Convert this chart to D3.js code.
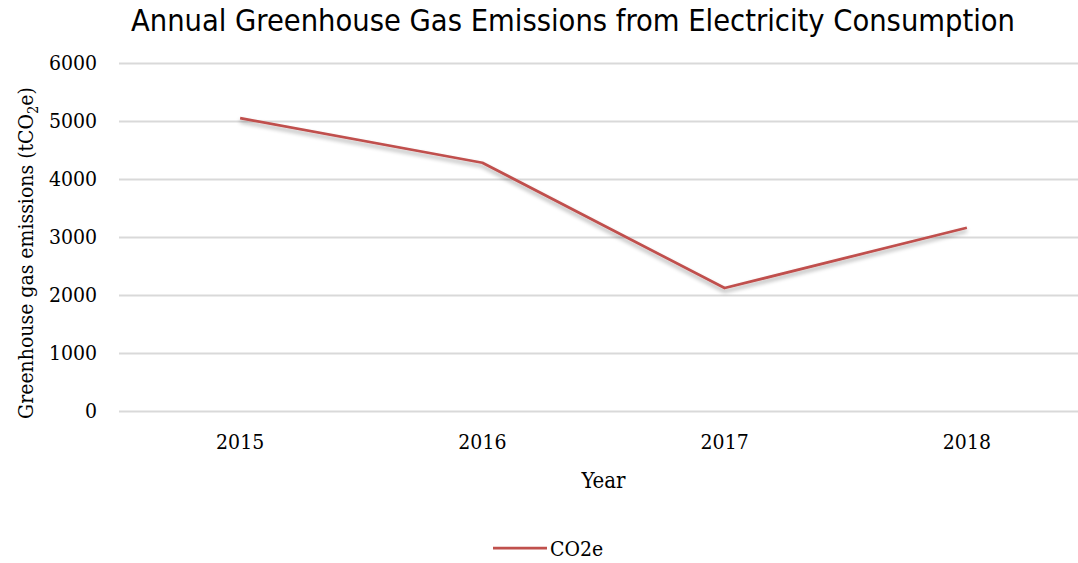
<!DOCTYPE html>
<html>
<head>
<meta charset="utf-8">
<script src="https://cdn.jsdelivr.net/npm/d3@7"></script>
<style>
  html, body { margin: 0; padding: 0; background: #fff; }
  svg { display: block; }
  .serif { font-family: "DejaVu Serif Condensed", "DejaVu Serif", serif; font-stretch: condensed; fill: #000; }
  .title { font-family: "DejaVu Sans Condensed", "DejaVu Sans", sans-serif; font-stretch: condensed; fill: #000; }
</style>
</head>
<body>
<svg id="chart" width="1078" height="563"></svg>
<script>
// Annual emissions (tCO2e) attributed to electricity use
const years = ["2015", "2016", "2017", "2018"];
const co2e = [5050, 4280, 2120, 3160];
const yTicks = [0, 1000, 2000, 3000, 4000, 5000, 6000];
const seriesName = "CO2e";

const W = 1078, H = 563;
const margin = { left: 119, right: -10, top: 63, bottom: 152 };

const svg = d3.select("#chart");

const defs = svg.append("defs");
const shadow = defs.append("filter").attr("id", "lineShadow")
  .attr("x", "-5%").attr("y", "-20%").attr("width", "110%").attr("height", "160%");
shadow.append("feGaussianBlur").attr("in", "SourceAlpha").attr("stdDeviation", 2.2).attr("result", "blur");
shadow.append("feOffset").attr("in", "blur").attr("dx", 0).attr("dy", 3).attr("result", "off");
shadow.append("feComponentTransfer").attr("in", "off").attr("result", "soft")
  .append("feFuncA").attr("type", "linear").attr("slope", 0.35);
const merge = shadow.append("feMerge");
merge.append("feMergeNode").attr("in", "soft");
merge.append("feMergeNode").attr("in", "SourceGraphic");

const x = d3.scaleBand().domain(years).range([margin.left, W - margin.right]);
const y = d3.scaleLinear().domain([0, 6000]).range([H - margin.bottom, margin.top]);

// horizontal gridlines
svg.append("g")
  .attr("transform", `translate(${margin.left},0)`)
  .call(d3.axisLeft(y).tickValues(yTicks).tickSize(-(W - margin.right - margin.left)).tickFormat(""))
  .call(g => g.select(".domain").remove())
  .call(g => g.selectAll("line").attr("stroke", "#d9d9d9").attr("stroke-width", 2));

// y tick labels
svg.append("g")
  .attr("transform", `translate(${margin.left},0)`)
  .call(d3.axisLeft(y).tickValues(yTicks).tickSize(0).tickPadding(22).tickFormat(d3.format("d")))
  .call(g => g.select(".domain").remove())
  .call(g => g.attr("font-family", null).attr("font-size", null))
  .call(g => g.selectAll("text").attr("class", "serif").attr("font-size", 21).attr("fill", "#000"));

// x tick labels
svg.append("g")
  .attr("transform", `translate(0,${y(0)})`)
  .call(d3.axisBottom(x).tickSize(0).tickPadding(23))
  .call(g => g.select(".domain").remove())
  .call(g => g.attr("font-family", null).attr("font-size", null))
  .call(g => g.selectAll("text").attr("class", "serif").attr("font-size", 21).attr("fill", "#000"));

// series line
const line = d3.line().x((d, i) => x(years[i]) + x.bandwidth() / 2).y(d => y(d));
svg.append("path")
  .datum(co2e)
  .attr("d", line)
  .attr("fill", "none")
  .attr("stroke", "#c0504d")
  .attr("stroke-width", 2.75)
  .attr("stroke-linejoin", "round")
  .attr("filter", "url(#lineShadow)");

// title
svg.append("text").attr("class", "title")
  .attr("x", 573).attr("y", 31)
  .attr("text-anchor", "middle")
  .attr("font-size", 30.5)
  .text("Annual Greenhouse Gas Emissions from Electricity Consumption");

// axis titles
svg.append("text").attr("class", "serif")
  .attr("x", (margin.left + W - margin.right) / 2).attr("y", 488)
  .attr("text-anchor", "middle").attr("font-size", 22)
  .text("Year");

const yt = svg.append("text").attr("class", "serif")
  .attr("transform", `translate(33,${(y(0) + y(6000)) / 2 + 16}) rotate(-90)`)
  .attr("text-anchor", "middle").attr("font-size", 21);
yt.append("tspan").text("Greenhouse gas emissions (tCO");
yt.append("tspan").attr("font-size", 14.5).attr("dy", 5).text("2");
yt.append("tspan").attr("dy", -5).text("e)");

// legend
const lg = svg.append("g");
lg.append("line").attr("x1", 493).attr("x2", 547).attr("y1", 548).attr("y2", 548)
  .attr("stroke", "#c0504d").attr("stroke-width", 2.75);
lg.append("text").attr("class", "serif").attr("x", 550).attr("y", 556)
  .attr("font-size", 21).text(seriesName);
</script>
</body>
</html>
